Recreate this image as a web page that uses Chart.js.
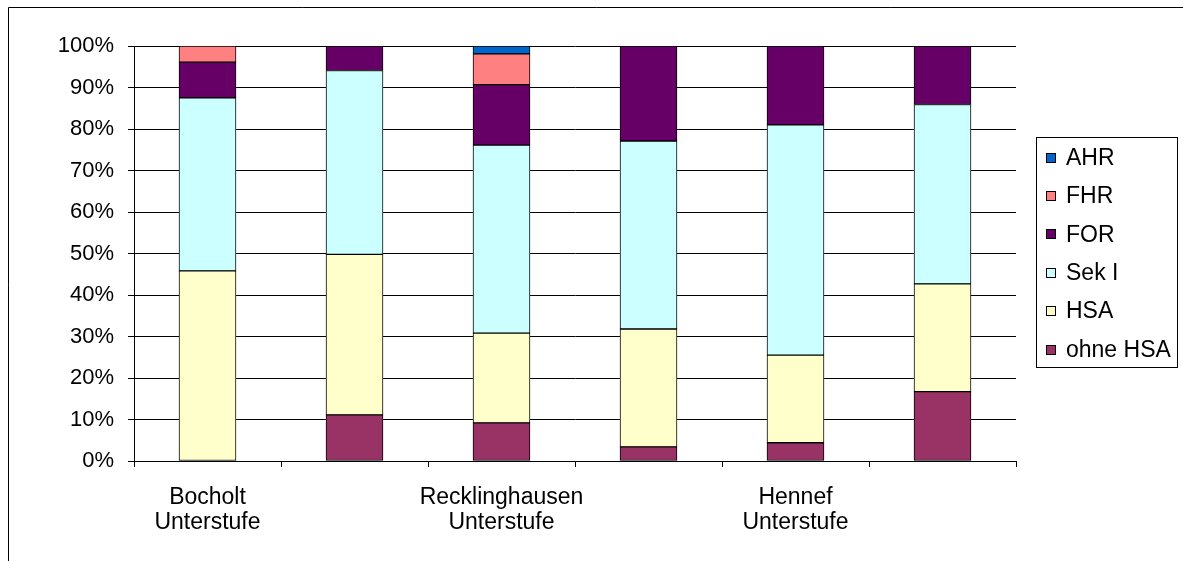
<!DOCTYPE html>
<html>
<head>
<meta charset="utf-8">
<title>Abschlüsse nach Standort</title>
<script src="https://cdn.jsdelivr.net/npm/chart.js@4/dist/chart.umd.min.js"></script>
<style>
  html, body { margin: 0; padding: 0; background: #fff; }
  #wrap { width: 1183px; height: 561px; position: relative; }
</style>
</head>
<body>
<div id="wrap"><canvas id="c" width="1183" height="561"></canvas></div>
<script>
// Categories (only every other label is printed on the axis)
const categories = [
  ['Bocholt', 'Unterstufe'], '',
  ['Recklinghausen', 'Unterstufe'], '',
  ['Hennef', 'Unterstufe'], ''
];

// Shares in percent, stacked bottom to top (null = no segment)
const ohneHSA = [null, 11.1, 9.2, 3.4, 4.4, 16.7];
const hsa     = [45.8, 38.7, 21.6, 28.4, 21.1, 26.0];
const sekI    = [41.7, 44.3, 45.3, 45.3, 55.5, 43.2];
const forVals = [8.6, 5.9, 14.6, 22.9, 19.0, 14.1];
const fhr     = [3.9, null, 7.4, null, null, null];
const ahr     = [null, null, 1.9, null, null, null];

const yTickValues = [0, 10, 20, 30, 40, 50, 60, 70, 80, 90, 100];

const FONT = '"Liberation Sans", Arial, sans-serif';

function series(label, data, color) {
  return {
    label, data,
    backgroundColor: color,
    borderColor: '#000',
    borderWidth: 1,
    borderSkipped: false,
    barThickness: 57
  };
}

const datasets = [
  series('ohne HSA', ohneHSA, '#993366'),
  series('HSA', hsa, '#FFFFCC'),
  series('Sek I', sekI, '#CCFFFF'),
  series('FOR', forVals, '#660066'),
  series('FHR', fhr, '#FF8080'),
  series('AHR', ahr, '#0066CC')
];

// Outer frame of the chart object
const framePlugin = {
  id: 'frame',
  beforeDraw(chart) {
    const ctx = chart.ctx;
    ctx.save();
    ctx.fillStyle = '#fff';
    ctx.fillRect(0, 0, chart.width, chart.height);
    ctx.strokeStyle = '#000';
    ctx.lineWidth = 1;
    ctx.beginPath();
    ctx.moveTo(8.5, chart.height + 2);
    ctx.lineTo(8.5, 7.5);
    ctx.lineTo(chart.width + 2, 7.5);
    ctx.stroke();
    ctx.restore();
  }
};

// Boxed legend on the right, listed top series first
const boxLegendPlugin = {
  id: 'boxLegend',
  afterDraw(chart) {
    const ctx = chart.ctx;
    const box = { x: 1036.5, y: 137.5, w: 141, h: 230 };
    ctx.save();
    ctx.strokeStyle = '#000';
    ctx.lineWidth = 1;
    ctx.strokeRect(box.x, box.y, box.w, box.h);
    const items = chart.data.datasets.slice().reverse();
    const firstY = 157.5;
    const step = 38.4;
    ctx.font = '23px ' + FONT;
    ctx.textBaseline = 'middle';
    ctx.textAlign = 'left';
    items.forEach((ds, i) => {
      const cy = firstY + i * step;
      const top = Math.round(cy - 5);
      ctx.fillStyle = ds.backgroundColor;
      ctx.fillRect(1046, top, 10, 10);
      ctx.strokeStyle = '#000';
      ctx.strokeRect(1046.5, top + 0.5, 9, 9);
      ctx.fillStyle = '#000';
      ctx.fillText(ds.label, 1066, cy + 1);
    });
    ctx.restore();
  }
};

new Chart(document.getElementById('c'), {
  type: 'bar',
  data: { labels: categories, datasets },
  options: {
    responsive: false,
    animation: false,
    layout: { padding: { left: 0, top: 46, right: 167, bottom: 0 } },
    plugins: {
      legend: { display: false },
      tooltip: { enabled: false }
    },
    scales: {
      x: {
        stacked: true,
        offset: true,
        afterFit(scale) { scale.height = 100; },
        grid: {
          offset: true,
          drawOnChartArea: false,
          drawTicks: true,
          tickLength: 6,
          color: '#000',
          lineWidth: 1
        },
        border: { display: true, color: '#000', width: 1 },
        ticks: {
          autoSkip: false,
          maxRotation: 0,
          minRotation: 0,
          padding: 18,
          color: '#000',
          font: { family: FONT, size: 23, lineHeight: 1.1 }
        }
      },
      y: {
        stacked: true,
        min: 0,
        max: 100,
        afterFit(scale) { scale.width = 134; },
        afterBuildTicks(scale) {
          scale.ticks = yTickValues.map(v => ({ value: v }));
        },
        grid: {
          drawTicks: true,
          tickLength: 6,
          color: '#000',
          lineWidth: 1
        },
        border: { display: true, color: '#000', width: 1 },
        ticks: {
          padding: 14,
          color: '#000',
          font: { family: FONT, size: 22 },
          callback: v => v + '%'
        }
      }
    }
  },
  plugins: [framePlugin, boxLegendPlugin]
});
</script>
</body>
</html>
